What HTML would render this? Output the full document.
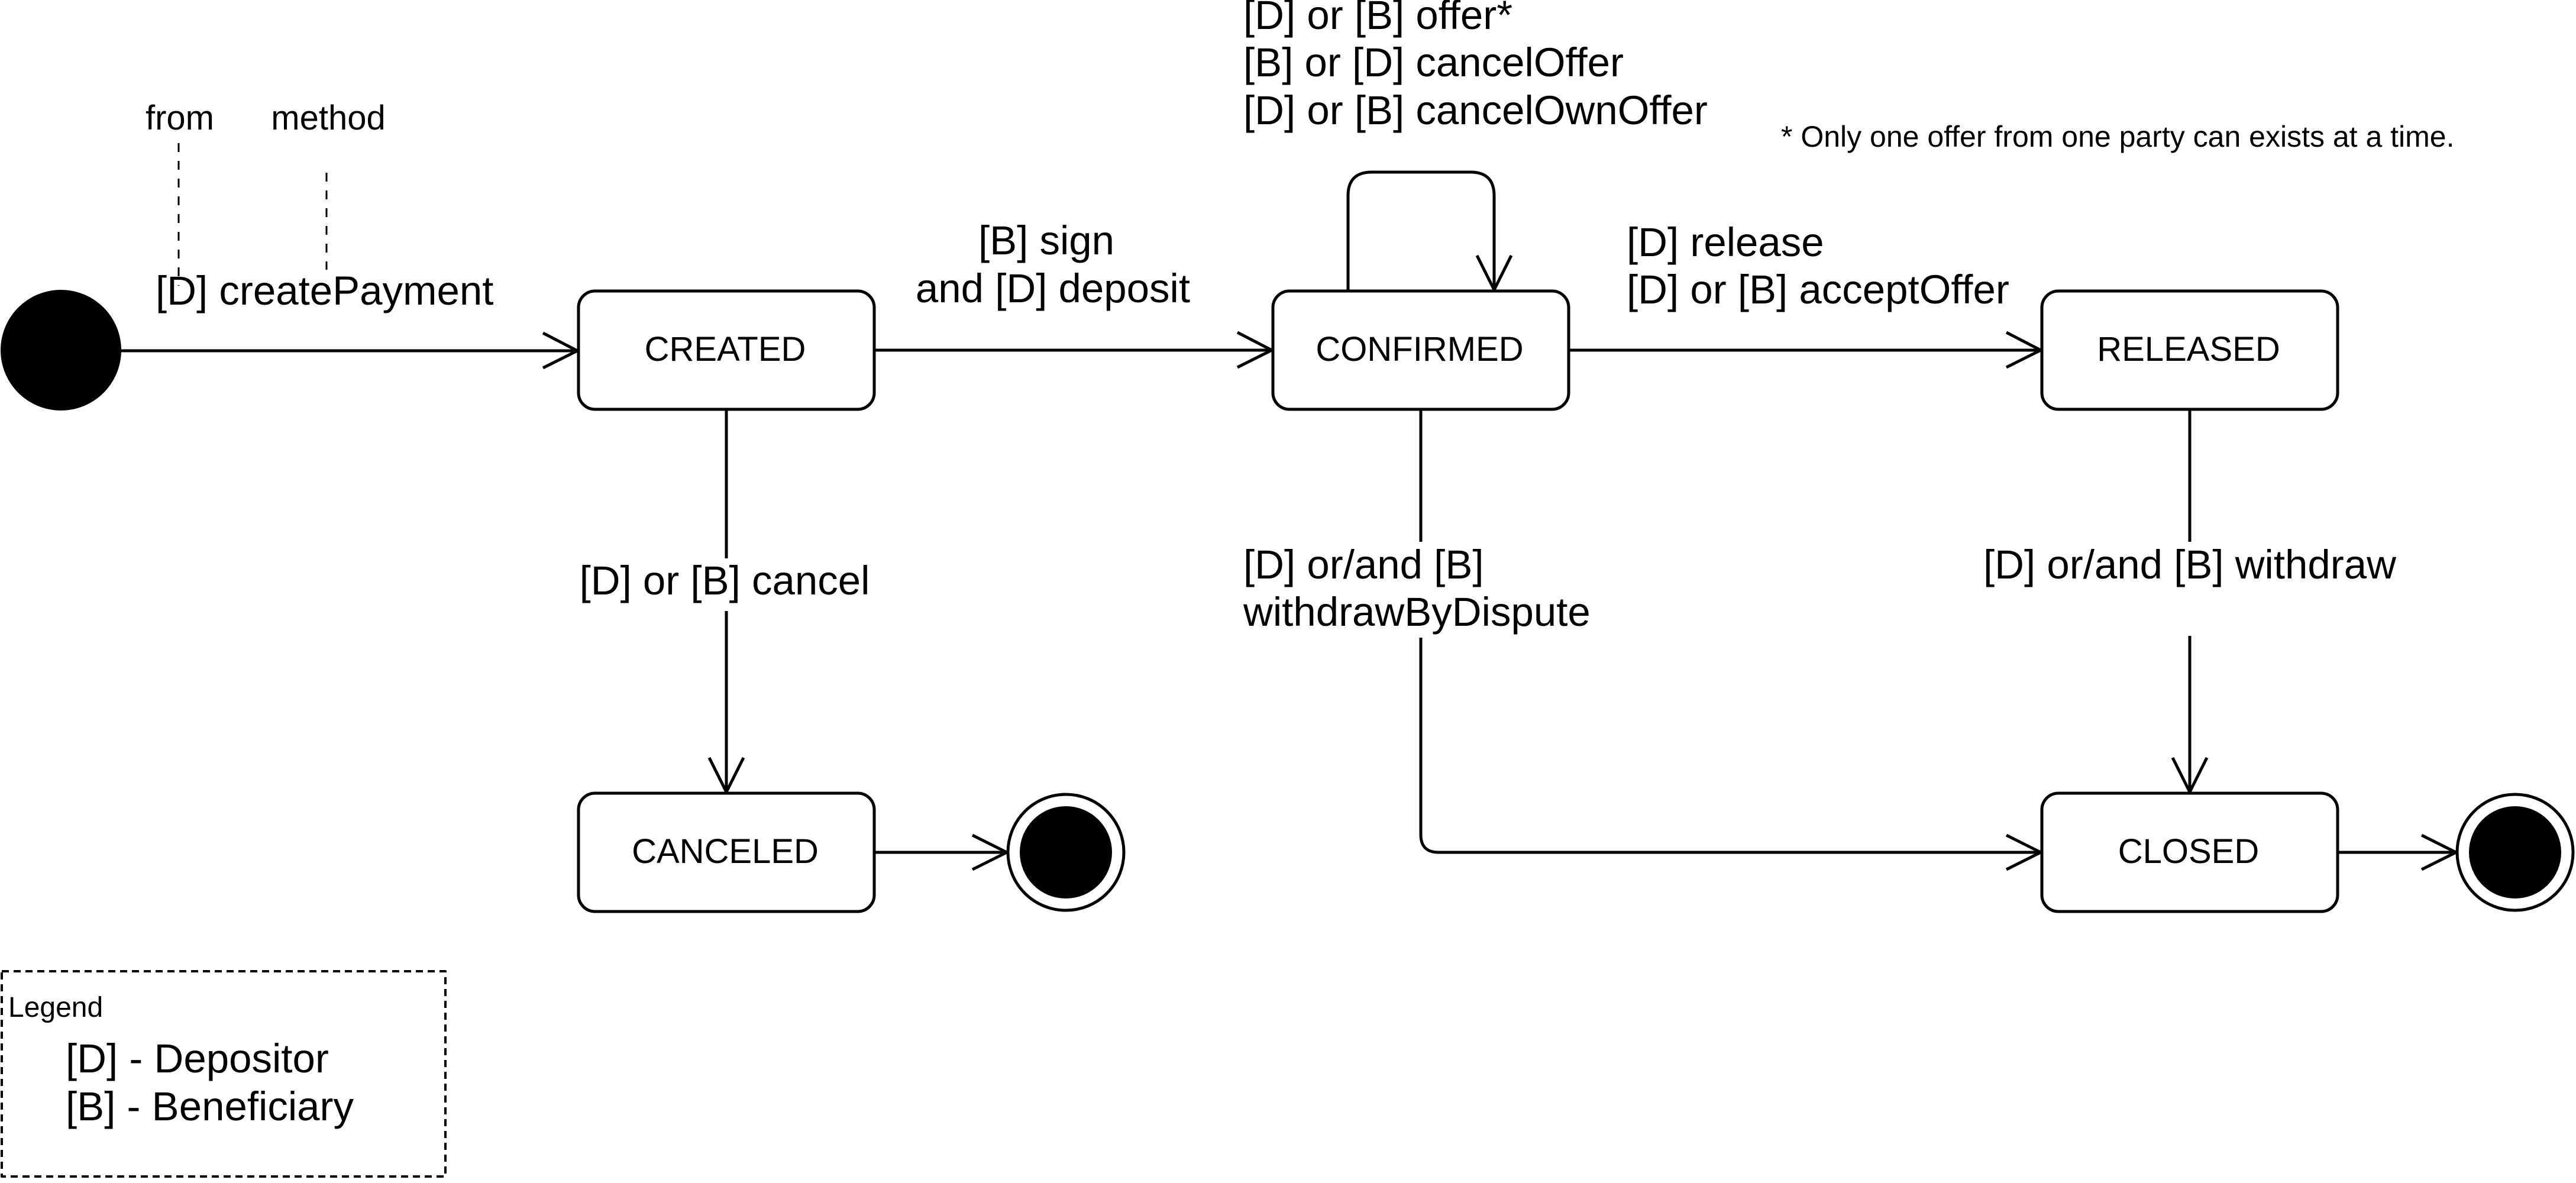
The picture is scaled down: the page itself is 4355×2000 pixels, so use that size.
<!DOCTYPE html>
<html><head><meta charset="utf-8"><style>
html,body{margin:0;padding:0;background:#fff;}
svg{display:block;}
text{font-family:"Liberation Sans",Arial,sans-serif;fill:#000;}
</style></head><body>
<svg width="4355" height="2000" viewBox="0 0 4355 2000" xmlns="http://www.w3.org/2000/svg">
<g fill="none" stroke="#000" stroke-width="5" stroke-linejoin="round">
  <rect x="978" y="492" width="500" height="200" rx="28"/>
  <rect x="2152" y="492" width="500" height="200" rx="28"/>
  <rect x="3452" y="492" width="500" height="200" rx="28"/>
  <rect x="978" y="1341" width="500" height="200" rx="28"/>
  <rect x="3452" y="1341" width="500" height="200" rx="28"/>
  <circle cx="1802" cy="1441" r="98"/>
  <circle cx="4252" cy="1441" r="98"/>
  <line x1="205" y1="593" x2="976" y2="593"/>
  <polyline points="918,563 976,593 918,622"/>
  <line x1="1478" y1="592" x2="2150" y2="592"/>
  <polyline points="2092,562 2150,592 2092,621"/>
  <line x1="2652" y1="592" x2="3450" y2="592"/>
  <polyline points="3392,562 3450,592 3392,621"/>
  <line x1="1228" y1="692" x2="1228" y2="944"/>
  <line x1="1228" y1="1033" x2="1228" y2="1339"/>
  <polyline points="1199,1281 1228,1339 1257,1281"/>
  <path d="M2402 692 V916"/>
  <path d="M2402 1078 V1411 Q2402 1441 2432 1441 H3450"/>
  <polyline points="3392,1412 3450,1441 3392,1470"/>
  <line x1="3702" y1="692" x2="3702" y2="916"/>
  <line x1="3702" y1="1075" x2="3702" y2="1339"/>
  <polyline points="3673,1281 3702,1339 3731,1281"/>
  <line x1="1478" y1="1441" x2="1702" y2="1441"/>
  <polyline points="1644,1412 1702,1441 1644,1470"/>
  <line x1="3952" y1="1441" x2="4152" y2="1441"/>
  <polyline points="4094,1412 4152,1441 4094,1470"/>
  <path d="M2279 492 V331 Q2279 291 2319 291 H2486 Q2526 291 2526 331 V490"/>
  <polyline points="2497,432 2526,490 2555,432"/>
  <line x1="302" y1="242" x2="302" y2="483" stroke-width="3" stroke-dasharray="15 15"/>
  <line x1="552" y1="292" x2="552" y2="456" stroke-width="3" stroke-dasharray="15 15"/>
  <rect x="3" y="1642" width="750" height="347" stroke-width="4" stroke-dasharray="12 8"/>
</g>
<circle cx="103" cy="592" r="102" fill="#000"/>
<circle cx="1802" cy="1441" r="78" fill="#000"/>
<circle cx="4252" cy="1441" r="78" fill="#000"/>

<g font-size="69">
  <text x="304" y="219" font-size="58" text-anchor="middle">from</text>
  <text x="555" y="219" font-size="58" text-anchor="middle">method</text>
  <text x="263" y="515">[D] createPayment</text>
  <text x="1769" y="430" text-anchor="middle">[B] sign</text>
  <text x="1780" y="511" text-anchor="middle">and [D] deposit</text>
  <text x="2102" y="49">[D] or [B] offer*</text>
  <text x="2102" y="129">[B] or [D] cancelOffer</text>
  <text x="2102" y="210">[D] or [B] cancelOwnOffer</text>
  <text x="3011" y="248" font-size="50">* Only one offer from one party can exists at a time.</text>
  <text x="2750" y="433">[D] release</text>
  <text x="2750" y="513">[D] or [B] acceptOffer</text>
  <text x="1225" y="1005" text-anchor="middle">[D] or [B] cancel</text>
  <text x="2102" y="978">[D] or/and [B]</text>
  <text x="2102" y="1058">withdrawByDispute</text>
  <text x="3702" y="978" text-anchor="middle">[D] or/and [B] withdraw</text>
  <text x="14" y="1719" font-size="48">Legend</text>
  <text x="111" y="1813">[D] - Depositor</text>
  <text x="111" y="1894">[B] - Beneficiary</text>
</g>
<g font-size="58" text-anchor="middle">
  <text x="1226" y="610">CREATED</text>
  <text x="2400" y="610">CONFIRMED</text>
  <text x="3700" y="610">RELEASED</text>
  <text x="1226" y="1459">CANCELED</text>
  <text x="3700" y="1459">CLOSED</text>
</g>
</svg>
</body></html>
